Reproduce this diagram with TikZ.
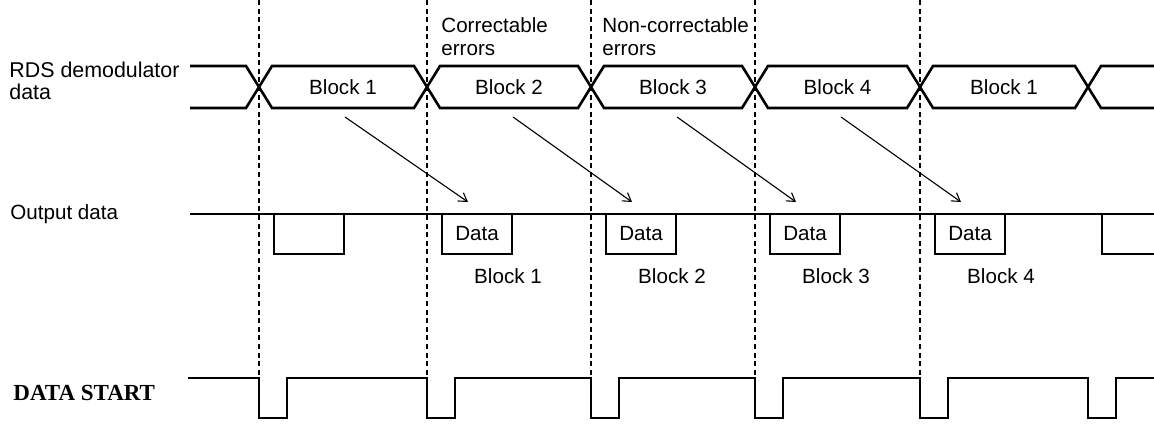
\documentclass[tikz,border=0pt]{standalone}
\usepackage{fontspec}
\usetikzlibrary{arrows.meta}
\setmainfont{Liberation Sans}
\newfontfamily\startfont{Liberation Serif}

\begin{document}
\begin{tikzpicture}
  [x=0.5pt,y=-0.5pt,every node/.style={font=\fontsize{10.3}{11.2}\selectfont},
   wave/.style={line width=1.3pt},
   divider/.style={line width=0.55pt,dash pattern=on 2.5pt off 1.8pt},
   outbox/.style={draw,line width=0.8pt,minimum width=35pt,minimum height=20pt,inner sep=0pt},
   hint/.style={-{Straight Barb[length=4pt,width=5pt]},line width=0.55pt}]
  \useasboundingbox (0,0) rectangle (1154,423);

  % row labels
  \node[anchor=west,align=left,inner sep=0pt,font=\fontsize{10.7}{11}\selectfont] (rds) at (9,81) {RDS demodulator\\data};
  \node[anchor=west,inner sep=0pt] (out) at (10,214) {Output data};
  \node[anchor=west,inner sep=0pt,font=\startfont\bfseries\fontsize{11.5}{13}\selectfont] (ds) at (13,393) {DATA START};

  % block boundaries
  \foreach \c in {259,427,591,755,920}
    \draw[divider] (\c,0) -- (\c,378);

  \node[anchor=north west,align=left,inner sep=0pt] (ce) at (441,17.5) {Correctable\\errors};
  \node[anchor=north west,align=left,inner sep=0pt] (nce) at (602,17.5) {Non-correctable\\errors};

  % demodulator data
  \draw[wave] (190,66) -- (246,66) -- (259,87) -- (246,108) -- (190,108);
  \foreach \from/\to/\name/\txt in {259/427/r1/Block 1, 427/591/r2/Block 2, 591/755/r3/Block 3, 755/920/r4/Block 4, 920/1088/r5/Block 1}
  {
    \draw[wave] (\from,87) -- (\from+13,66) -- (\to-13,66) -- (\to,87) -- (\to-13,108) -- (\from+13,108) -- cycle;
    \node (\name) at ({(\from+\to)/2},87) {\txt};
  }
  \draw[wave] (1154,66) -- (1101,66) -- (1088,87) -- (1101,108) -- (1154,108);

  % output data
  \draw[line width=0.8pt] (190,214) -- (1154,214);
  \node[outbox] (d0) at (309,234) {};
  \foreach \c/\name/\lab/\txt in {427/d1/o1/Block 1, 591/d2/o2/Block 2, 755/d3/o3/Block 3, 920/d4/o4/Block 4}
  {
    \node[outbox] (\name) at (\c+50,234) {Data};
    \node (\lab) at (\c+81,276) {\txt};
  }
  \draw[line width=0.8pt] (1102,214) -- (1102,254) -- (1154,254);

  % block i is read out during block i+1
  \foreach \i/\c/\n in {1/259/427, 2/427/591, 3/591/755, 4/755/920}
  {
    \coordinate (s\i) at (\c+86,117);
    \coordinate (e\i) at (\n+41,202);
  }
  \foreach \from/\to in {s1/e1, s2/e2, s3/e3, s4/e4}
    \draw[hint] (\from) -- (\to);

  % data start
  \draw[wave] (188,378) \foreach \c in {259,427,591,755,920,1088} { -- (\c,378) -- (\c,418) -- (\c+28,418) -- (\c+28,378) } -- (1154,378);
\end{tikzpicture}
\end{document}
